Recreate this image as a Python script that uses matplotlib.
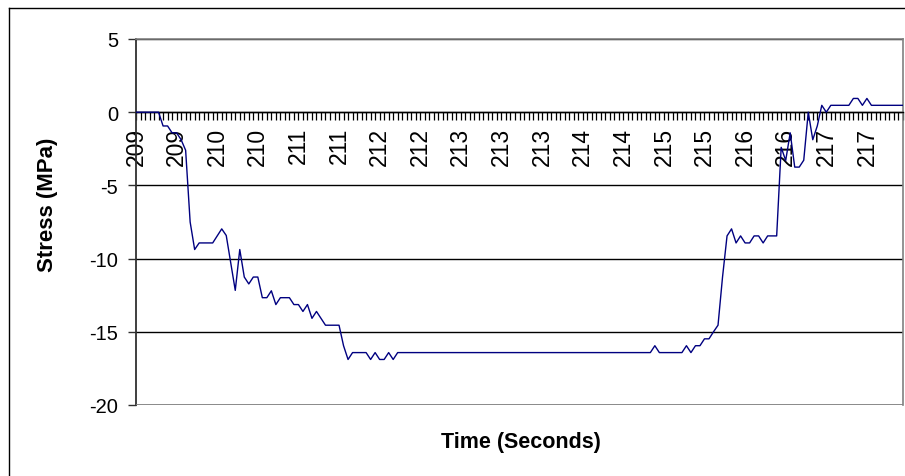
import matplotlib
matplotlib.use("Agg")
import matplotlib.pyplot as plt
from matplotlib.lines import Line2D
import numpy as np

plt.rcParams['font.family'] = ['Liberation Sans', 'DejaVu Sans']
plt.rcParams['axes.unicode_minus'] = False

# Stress (MPa) per sample (category axis, 20 samples per second)
stress = [
    0, 0, 0, 0, 0, 0, -0.94, -0.94, -1.41, -1.41,
    -1.88, -2.6, -7.5, -9.38, -8.93, -8.93, -8.93, -8.93, -8.45, -7.97,
    -8.42, -10.3, -12.17, -9.38, -11.26, -11.73, -11.26, -11.26, -12.67, -12.67,
    -12.2, -13.14, -12.67, -12.67, -12.67, -13.14, -13.14, -13.61, -13.14, -14.08,
    -13.61, -14.08, -14.55, -14.55, -14.55, -14.55, -15.95, -16.89, -16.42, -16.42,
    -16.42, -16.42, -16.89, -16.42, -16.89, -16.89, -16.42, -16.89, -16.42, -16.42,
    -16.42, -16.42, -16.42, -16.42, -16.42, -16.42, -16.42, -16.42, -16.42, -16.42,
    -16.42, -16.42, -16.42, -16.42, -16.42, -16.42, -16.42, -16.42, -16.42, -16.42,
    -16.42, -16.42, -16.42, -16.42, -16.42, -16.42, -16.42, -16.42, -16.42, -16.42,
    -16.42, -16.42, -16.42, -16.42, -16.42, -16.42, -16.42, -16.42, -16.42, -16.42,
    -16.42, -16.42, -16.42, -16.42, -16.42, -16.42, -16.42, -16.42, -16.42, -16.42,
    -16.42, -16.42, -16.42, -16.42, -16.42, -15.95, -16.42, -16.42, -16.42, -16.42,
    -16.42, -16.42, -15.95, -16.42, -15.95, -15.95, -15.48, -15.48, -15.0, -14.55,
    -11.26, -8.45, -7.97, -8.93, -8.45, -8.93, -8.93, -8.45, -8.45, -8.93,
    -8.45, -8.45, -8.45, -2.4, -3.3, -1.41, -3.75, -3.75, -3.28, 0,
    -1.88, -0.94, 0.47, 0, 0.47, 0.47, 0.47, 0.47, 0.47, 0.94,
    0.94, 0.47, 0.94, 0.47, 0.47, 0.47, 0.47, 0.47, 0.47, 0.47,
    0.47,
]

# Category tick labels (shown every 9th sample)
tick_labels = ["209", "209", "210", "210", "211", "211", "212", "212", "213",
               "213", "213", "214", "214", "215", "215", "216", "216", "217", "217"]
label_every = 9

y_ticks = [5, 0, -5, -10, -15, -20]

W, H = 905, 477
fig = plt.figure(figsize=(W / 100, H / 100), dpi=100)
ax = fig.add_axes([136 / W, 71 / H, 767 / W, 366 / H])

n = len(stress)
idx = np.arange(n)
ax.plot(idx, stress, color='#000080', lw=1.0, zorder=3)

ax.set_xlim(0, n - 1)
ax.set_ylim(-20, 5)

# y axis
ax.set_yticks(y_ticks)
ax.set_yticklabels([str(v) for v in y_ticks], fontsize=14.5)
ax.tick_params(axis='y', direction='out', length=6, width=1.0, color='#303030', pad=7)
ax.yaxis.grid(True, color='black', lw=1.0)
ax.set_axisbelow(True)

# category axis crossing at 0
ax.spines['bottom'].set_position(('data', 0))
ax.spines['bottom'].set_color('black')
ax.spines['bottom'].set_linewidth(1.0)
ax.spines['bottom'].set_zorder(2.8)
ax.spines['left'].set_color('#303030')
ax.spines['left'].set_linewidth(1.3)
for s in ('top', 'right'):
    ax.spines[s].set_color('#808080')
    ax.spines[s].set_linewidth(1.2)
ax.axhline(-20, color='#808080', lw=1.2, zorder=2.6)

major_pos = idx[::label_every][:len(tick_labels)]
ax.set_xticks(major_pos)
ax.set_xticklabels(tick_labels, rotation=90, fontsize=16.5)
ax.set_xticks(idx, minor=True)
ax.tick_params(axis='x', which='both', direction='out', length=5.5, width=0.9,
               color='black', pad=5)

# axis titles
fig.text(521 / W, 1 - 443 / H, 'Time (Seconds)', ha='center', va='center',
         fontsize=15.5, fontweight='bold')
fig.text(48 / W, 1 - 205 / H, 'Stress (MPa)', ha='center', va='center',
         rotation=90, fontsize=16, fontweight='bold')

# chart area border (left and top visible)
fig.add_artist(Line2D([8.5 / W, 8.5 / W], [0, 1 - 8.5 / H], transform=fig.transFigure,
                      color='black', lw=1.0))
fig.add_artist(Line2D([8.5 / W, 1], [1 - 8.5 / H, 1 - 8.5 / H], transform=fig.transFigure,
                      color='black', lw=1.0))

fig.savefig('out.png', dpi=100)
